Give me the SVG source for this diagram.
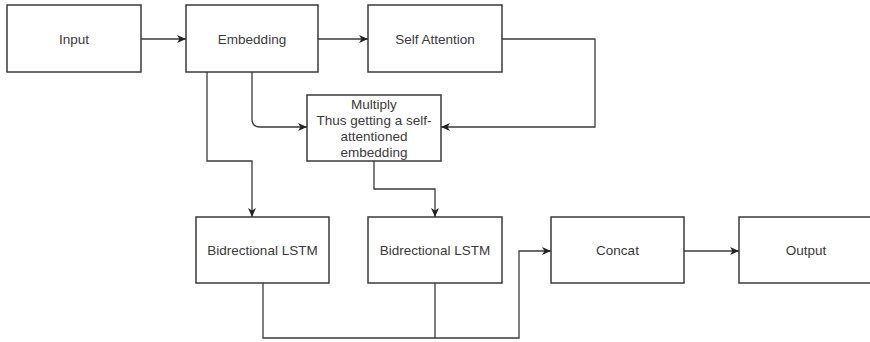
<svg xmlns="http://www.w3.org/2000/svg" width="870" height="342" viewBox="0 0 870 342">
  <style>
    .box { fill: #ffffff; stroke: #3a3a3a; stroke-width: 1.5; }
    .lbl { font-family: "Liberation Sans", Arial, sans-serif; font-size: 13.5px; fill: #3a3a3a; text-anchor: middle; }
    .edge { fill: none; stroke: #3a3a3a; stroke-width: 1.3; }
    .arr { marker-end: url(#head); }
  </style>
  <defs>
    <marker id="head" markerWidth="10" markerHeight="10" refX="9" refY="5" orient="auto" markerUnits="userSpaceOnUse">
      <path d="M0,1 L9,5 L0,9 L2.5,5 z" fill="#222222"/>
    </marker>
  </defs>
  <rect width="870" height="342" fill="#ffffff"/>

  <g id="connectors">
    <path class="edge arr" d="M141,39 H186"/>
    <path class="edge arr" d="M318,39 H368"/>
    <path class="edge arr" d="M502,39 H595 V127 H441"/>
    <path class="edge arr" d="M252,72 V119 Q252,127 260,127 H307"/>
    <path class="edge arr" d="M207,72 V161 H252 V217"/>
    <path class="edge arr" d="M374,161 V189 H435 V217"/>
    <path class="edge arr" d="M263,283 V338 H519 V251 H551"/>
    <path class="edge" d="M435,283 V338"/>
    <path class="edge arr" d="M684,251 H739"/>
  </g>

  <g id="input">
    <rect class="box" x="7" y="5" width="134" height="67"/>
    <text class="lbl" x="74" y="44">Input</text>
  </g>
  <g id="embedding">
    <rect class="box" x="186" y="5" width="132" height="67"/>
    <text class="lbl" x="252" y="44">Embedding</text>
  </g>
  <g id="self-attention">
    <rect class="box" x="368" y="5" width="134" height="67"/>
    <text class="lbl" x="435" y="44">Self Attention</text>
  </g>
  <g id="multiply">
    <rect class="box" x="307" y="95" width="134" height="66"/>
    <text class="lbl" x="374" y="109">Multiply</text>
    <text class="lbl" x="374" y="125">Thus getting a self-</text>
    <text class="lbl" x="374" y="141">attentioned</text>
    <text class="lbl" x="374" y="157">embedding</text>
  </g>
  <g id="bilstm-1">
    <rect class="box" x="196" y="217" width="133" height="66"/>
    <text class="lbl" x="262.5" y="255">Bidrectional LSTM</text>
  </g>
  <g id="bilstm-2">
    <rect class="box" x="368" y="217" width="134" height="66"/>
    <text class="lbl" x="435" y="255">Bidrectional LSTM</text>
  </g>
  <g id="concat">
    <rect class="box" x="551" y="217" width="133" height="66"/>
    <text class="lbl" x="617.5" y="255">Concat</text>
  </g>
  <g id="output">
    <rect class="box" x="739" y="217" width="136" height="66"/>
    <text class="lbl" x="806" y="255">Output</text>
  </g>
</svg>
